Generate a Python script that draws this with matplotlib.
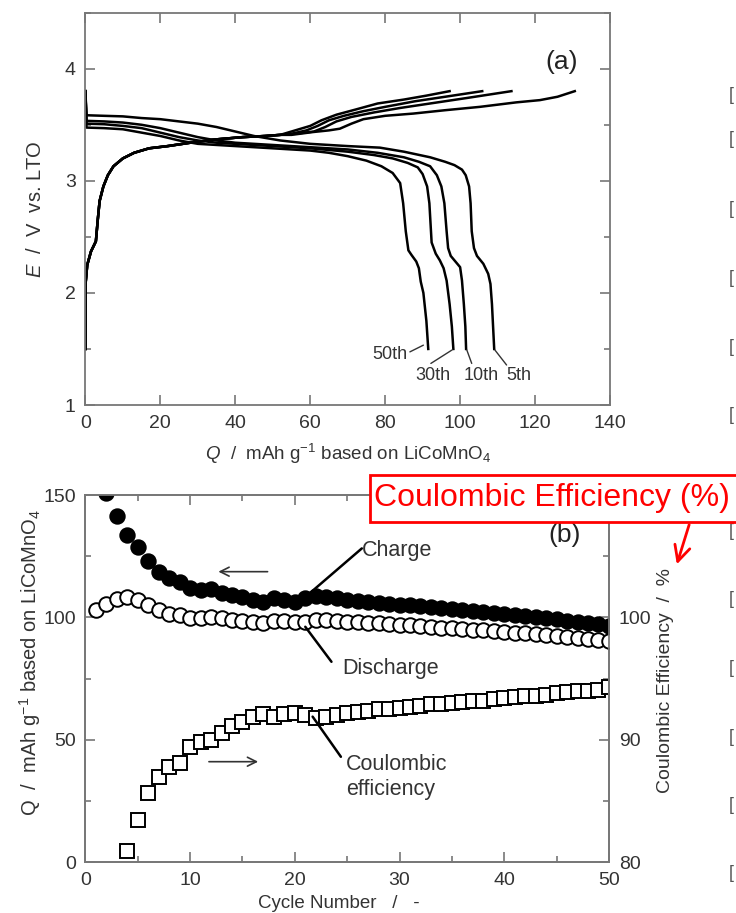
import numpy as np
import matplotlib
matplotlib.use("Agg")
import matplotlib.pyplot as plt
from matplotlib.patches import Rectangle, FancyArrowPatch
from matplotlib.ticker import MultipleLocator

plt.rcParams['font.family'] = ['Liberation Sans', 'DejaVu Sans']
plt.rcParams['mathtext.fontset'] = 'custom'
plt.rcParams['mathtext.rm'] = 'Liberation Sans'
plt.rcParams['mathtext.it'] = 'Liberation Sans:italic'

# ---- (a) charge / discharge curves, Q (mAh/g) vs E (V) ----
# charge curves share the same start below ~3.4 V
charge_start_q = [0, 0.1, 0.5, 1.5, 2.8, 3.3, 3.8, 4.8, 6.0, 7.5, 10, 13, 17, 22, 28, 35, 42, 48, 52]
charge_start_e = [1.50, 2.10, 2.25, 2.37, 2.46, 2.65, 2.82, 2.95, 3.05, 3.13, 3.20, 3.25, 3.29,
                  3.31, 3.34, 3.37, 3.39, 3.40, 3.41]

charge50_q = [54, 57, 60, 63, 67, 72, 78, 85, 91, 97.2]
charge50_e = [3.43, 3.46, 3.49, 3.54, 3.59, 3.635, 3.69, 3.725, 3.76, 3.80]
charge30_q = [55, 59, 62, 65, 69, 74, 80, 88, 96, 105.9]
charge30_e = [3.42, 3.45, 3.49, 3.54, 3.58, 3.62, 3.66, 3.71, 3.75, 3.80]
charge10_q = [56, 61, 64, 67, 71, 77, 84, 92, 102, 113.7]
charge10_e = [3.42, 3.44, 3.48, 3.53, 3.57, 3.61, 3.65, 3.69, 3.74, 3.80]
charge5_q = [55, 60.7, 65, 67.9, 71, 74.2, 80, 87.5, 96, 105.3, 115, 121.3, 126, 130.6]
charge5_e = [3.41, 3.435, 3.45, 3.465, 3.51, 3.55, 3.58, 3.60, 3.63, 3.66, 3.70, 3.72, 3.75, 3.80]

dis5_q = [0, 0.3, 5, 10, 15, 20, 25, 30, 35, 40, 45, 52, 60, 70, 78.6, 85, 92, 96, 98.5, 100.5,
          101.5, 102.4, 102.8, 103.1, 103.7, 104.5, 106.2, 107.5, 108.1, 108.5, 108.8, 109.1]
dis5_e = [3.80, 3.585, 3.58, 3.575, 3.56, 3.55, 3.53, 3.51, 3.48, 3.44, 3.40, 3.36, 3.33, 3.31,
          3.296, 3.26, 3.21, 3.17, 3.14, 3.10, 3.05, 2.95, 2.80, 2.55, 2.40, 2.33, 2.26, 2.17,
          2.08, 1.90, 1.70, 1.50]
dis10_q = [0, 0.3, 5, 10, 15, 20, 25, 30, 35, 40, 50, 60, 70, 78, 85, 89, 92, 93.8, 95, 95.8,
           96.4, 96.8, 97.5, 98.5, 100, 100.5, 101, 101.4, 101.6]
dis10_e = [3.80, 3.535, 3.53, 3.52, 3.50, 3.47, 3.43, 3.39, 3.36, 3.34, 3.32, 3.30, 3.28, 3.25,
           3.21, 3.17, 3.13, 3.05, 2.95, 2.80, 2.55, 2.40, 2.33, 2.29, 2.23, 2.11, 1.90, 1.70, 1.50]
dis30_q = [0, 0.3, 5, 10, 15, 20, 25, 30, 35, 40, 50, 60, 70, 77, 82, 86, 88.7, 90, 91.2, 91.8,
           92.4, 93.5, 94.6, 95.6, 96.4, 97.2, 97.8, 98.2]
dis30_e = [3.80, 3.51, 3.505, 3.49, 3.47, 3.43, 3.39, 3.36, 3.34, 3.33, 3.31, 3.29, 3.26, 3.23,
           3.20, 3.16, 3.12, 3.06, 2.95, 2.80, 2.45, 2.35, 2.29, 2.22, 2.11, 1.90, 1.70, 1.50]
dis50_q = [0, 0.3, 5, 10, 15, 20, 25, 30, 40, 50, 60, 65, 70, 75, 79, 82, 84.0, 84.8, 85.5, 86.2,
           87.0, 88.3, 89.0, 89.5, 90.2, 91.0, 91.5]
dis50_e = [3.80, 3.475, 3.47, 3.46, 3.43, 3.40, 3.36, 3.33, 3.31, 3.29, 3.27, 3.25, 3.22, 3.18,
           3.13, 3.07, 2.98, 2.80, 2.55, 2.38, 2.34, 2.28, 2.22, 2.10, 2.00, 1.75, 1.50]

# ---- (b) cycle performance ----
cycles = np.arange(1, 51)
charge_cap = [150.7, 141.5, 133.6, 128.6, 123.2, 118.7, 116.0, 114.6, 111.9,
              111.2, 111.5, 110.1, 109.1, 108.2, 107.1, 106.2, 107.8, 107.1, 106.4,
              107.8, 108.7, 108.2, 107.8, 107.1, 106.8, 106.3, 106.0, 105.6, 105.2,
              104.9, 104.5, 104.2, 103.8, 103.5, 103.1, 102.6, 102.3, 101.9, 101.5,
              101.0, 100.6, 100.2, 99.7, 99.2, 98.7, 98.2, 97.7, 97.2, 96.5]  # cycles 2-50
discharge_cap = [103.0, 105.5, 107.5, 108.2, 107.1, 105.1, 103.0, 101.4, 101.0, 99.6,
                 99.6, 100.3, 99.6, 98.9, 98.7, 98.3, 97.6, 98.7, 98.7, 98.3,
                 98.3, 98.9, 98.9, 98.7, 98.3, 98.0, 97.8, 97.6, 97.3, 97.0,
                 96.8, 96.5, 96.2, 95.9, 95.6, 95.3, 95.0, 94.7, 94.4, 94.1,
                 93.8, 93.5, 93.2, 92.9, 92.5, 92.1, 91.7, 91.3, 90.9, 90.5]
coulombic_eff = [80.95, 83.45, 85.7, 87.0, 87.8, 88.1, 89.4, 89.8, 90.0, 90.6,
                 91.1, 91.5, 91.9, 92.1, 91.9, 92.1, 92.2, 92.0, 91.8, 91.9,
                 92.0, 92.2, 92.3, 92.4, 92.5, 92.5, 92.6, 92.7, 92.8, 92.9,
                 92.9, 93.0, 93.1, 93.2, 93.2, 93.3, 93.4, 93.5, 93.6, 93.6,
                 93.7, 93.8, 93.9, 94.0, 94.0, 94.1, 94.3]  # cycles 4-50

SPINE = '#777777'
TXT = '#333333'


def style_axes(ax, right=True):
    for s in ax.spines.values():
        s.set_color(SPINE)
        s.set_linewidth(1.3)
    ax.tick_params(which='both', direction='in', colors=SPINE, labelcolor=TXT,
                   labelsize=14, top=True, right=right)
    ax.tick_params(which='major', length=7, width=1.2, pad=7)
    ax.tick_params(which='minor', length=4, width=1.2)


fig = plt.figure(figsize=(7.36, 9.13), dpi=100)

# ---------------- panel (a) ----------------
ax1 = fig.add_axes([0.116, 0.5564, 0.7128, 0.4297])
curve_kw = dict(color='black', lw=1.8)
for cq, ce in [(charge50_q, charge50_e), (charge30_q, charge30_e),
               (charge10_q, charge10_e), (charge5_q, charge5_e)]:
    ax1.plot(charge_start_q + cq, charge_start_e + ce, **curve_kw)
for dq, de in [(dis5_q, dis5_e), (dis10_q, dis10_e), (dis30_q, dis30_e), (dis50_q, dis50_e)]:
    ax1.plot(dq, de, **curve_kw)

ax1.set_xlim(0, 140)
ax1.set_ylim(1, 4.5)
ax1.xaxis.set_major_locator(MultipleLocator(20))
ax1.yaxis.set_major_locator(MultipleLocator(1))
ax1.yaxis.set_minor_locator(MultipleLocator(0.5))
style_axes(ax1)
ax1.set_xlabel(r"$\it{Q}$  /  mAh g$^{-1}$ based on LiCoMnO$_4$", fontsize=13.5,
               color=TXT, labelpad=7)
ax1.set_ylabel(r"$\it{E}$  /  V  vs. LTO", fontsize=14.5, color=TXT, labelpad=14)

ax1.text(127.2, 4.06, "(a)", fontsize=19, ha='center', va='center', color='#222222')

cycle_labels = ["50th", "30th", "10th", "5th"]
label_pos = [(81.2, 1.45), (92.7, 1.265), (105.6, 1.265), (115.7, 1.265)]
leader_from = [(86.6, 1.474), (92.2, 1.371), (103.1, 1.371), (112.4, 1.357)]
leader_to = [(90.2, 1.534), (97.8, 1.49), (101.8, 1.49), (109.3, 1.49)]
for lab, p, a, b in zip(cycle_labels, label_pos, leader_from, leader_to):
    ax1.text(p[0], p[1], lab, fontsize=13, ha='center', va='center', color=TXT)
    ax1.annotate("", xy=b, xytext=a,
                 arrowprops=dict(arrowstyle='-', color=TXT, lw=1.0, shrinkA=0, shrinkB=0))

# ---------------- panel (b) ----------------
ax2 = fig.add_axes([0.116, 0.0555, 0.7114, 0.4023])
ax3 = ax2.twinx()
ax2.set_zorder(ax3.get_zorder() + 1)
ax2.patch.set_visible(False)

ax2.plot(cycles[1:], charge_cap, 'o', ms=10.5, mfc='black', mec='black', mew=1.3)
ax2.plot(cycles, discharge_cap, 'o', ms=10.5, mfc='white', mec='black', mew=1.4)
ax3.plot(cycles[3:], coulombic_eff, 's', ms=10, mfc='white', mec='black', mew=1.4)

ax2.set_xlim(0, 50)
ax2.set_ylim(0, 150)
ax3.set_ylim(80, 110)
ax2.xaxis.set_major_locator(MultipleLocator(10))
ax2.xaxis.set_minor_locator(MultipleLocator(5))
ax2.yaxis.set_major_locator(MultipleLocator(50))
ax2.yaxis.set_minor_locator(MultipleLocator(25))
ax3.set_yticks([80, 90, 100])
ax3.set_yticks([85, 95, 105], minor=True)
style_axes(ax2, right=False)
style_axes(ax3)
ax3.tick_params(which='both', left=False, top=False)

fig.text(30 / 736, 1 - 662 / 913, r"Q  /  mAh g$^{-1}$ based on LiCoMnO$_4$",
         rotation=90, fontsize=14.5, color=TXT, ha='center', va='center')
fig.text(666 / 736, 1 - 680 / 913, "Coulombic Efficiency  /  %",
         rotation=90, fontsize=14, color=TXT, ha='center', va='center')
fig.text(339 / 736, 1 - 903 / 913, "Cycle Number   /   -", fontsize=13.5,
         color=TXT, ha='center', va='center')

ax2.text(45.8, 133.6, "(b)", fontsize=19, ha='center', va='center', color='#222222')

line_kw = dict(arrowstyle='-', color='black', lw=1.8, shrinkA=0, shrinkB=0)
ax2.text(26.4, 127.5, "Charge", fontsize=15.5, ha='left', va='center', color=TXT)
ax2.annotate("", xy=(21.4, 109.8), xytext=(26.4, 128.2), arrowprops=line_kw)
ax2.text(24.5, 79.2, "Discharge", fontsize=15.5, ha='left', va='center', color=TXT)
ax2.annotate("", xy=(21.0, 96.2), xytext=(23.5, 81.9), arrowprops=line_kw)
ax2.text(24.9, 35.0, "Coulombic\nefficiency", fontsize=15.5, ha='left', va='center',
         color=TXT, linespacing=1.25)
ax2.annotate("", xy=(21.7, 59.5), xytext=(24.4, 43.1), arrowprops=line_kw)

arrow_kw = dict(arrowstyle='->', color='#333333', lw=1.2, mutation_scale=16,
                shrinkA=0, shrinkB=0)
ax2.annotate("", xy=(12.7, 118.7), xytext=(17.4, 118.7), arrowprops=arrow_kw)
ax2.annotate("", xy=(16.5, 41.1), xytext=(11.8, 41.1), arrowprops=arrow_kw)

# ---------------- red overlay note ----------------
fig.patches.append(Rectangle((370 / 736, 1 - 521.7 / 913), 400 / 736, 46.7 / 913,
                             transform=fig.transFigure, facecolor='white',
                             edgecolor='red', lw=2, zorder=10))
fig.text(374 / 736, 1 - 498 / 913, "Coulombic Efficiency (%)", fontsize=23,
         color='red', ha='left', va='center', zorder=11)
fig.add_artist(FancyArrowPatch(
    (690 / 736, 1 - 522 / 913), (676 / 736, 1 - 567 / 913),
    transform=fig.transFigure, arrowstyle='->', mutation_scale=28,
    color='red', lw=2, zorder=11))

# page margin brackets
for yb in [95, 140, 210, 278, 347, 415, 532, 600, 668, 737, 805, 873]:
    fig.text(729 / 736, 1 - yb / 913, "[", fontsize=13, color='#555555',
             ha='left', va='center')

fig.savefig("out.png", dpi=100)
